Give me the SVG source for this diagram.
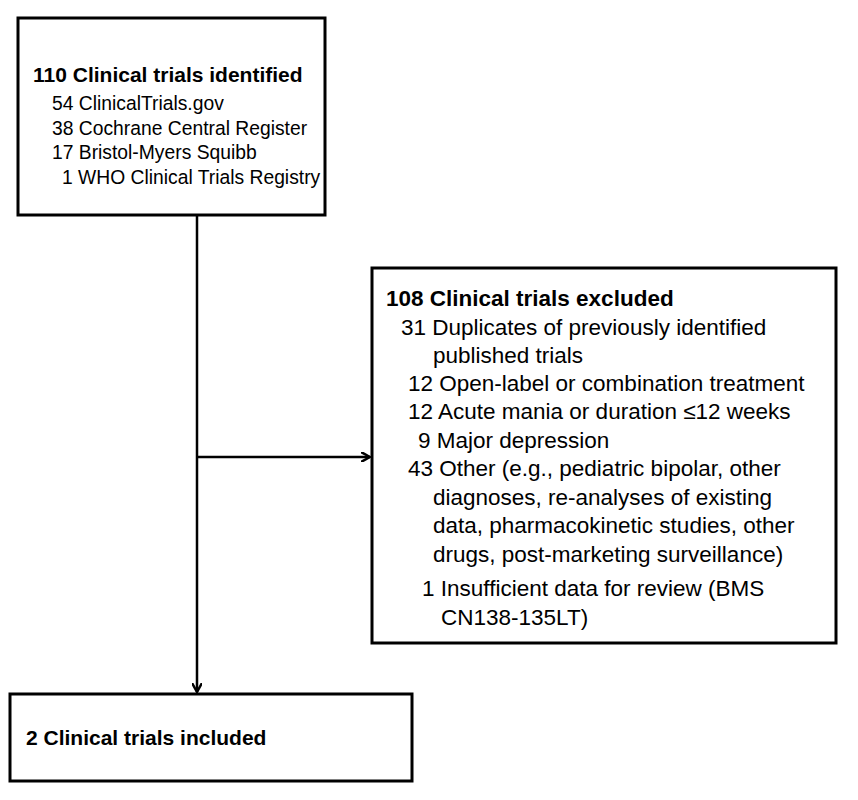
<svg xmlns="http://www.w3.org/2000/svg" width="858" height="800" viewBox="0 0 858 800">
<style>
.box{fill:#fff;stroke:#000;stroke-width:3}
text{font-family:"Liberation Sans",Arial,sans-serif;font-size:19.3px;fill:#000}
.b{font-weight:bold;font-size:21px}
.e{font-size:22.5px}
.eb{font-weight:bold;font-size:22.5px}
.c{stroke:#000;stroke-width:2.5;fill:none}
</style>
<defs><marker id="a" markerWidth="10" markerHeight="10" refX="9" refY="5" orient="auto" markerUnits="userSpaceOnUse"><path d="M0,0 L9,5 L0,10" fill="none" stroke="#000" stroke-width="2.5"/></marker></defs>
<rect width="858" height="800" fill="#fff"/>
<g id="connectors">
<path class="c" d="M197,216 V692" marker-end="url(#a)"/>
<path class="c" d="M197,457 H370" marker-end="url(#a)"/>
</g>
<g id="identified">
<rect class="box" x="18" y="18" width="307" height="197"/>
<text class="b" x="33" y="82">110 Clinical trials identified</text>
<text x="52" y="110">54 ClinicalTrials.gov</text>
<text x="52" y="135">38 Cochrane Central Register</text>
<text x="52" y="159">17 Bristol-Myers Squibb</text>
<text x="62" y="184">1 WHO Clinical Trials Registry</text>
</g>
<g id="excluded">
<rect class="box" x="372" y="268" width="464" height="375"/>
<text class="eb" x="386" y="306">108 Clinical trials excluded</text>
<text class="e" x="401" y="335">31 Duplicates of previously identified</text>
<text class="e" x="433" y="363">published trials</text>
<text class="e" x="408" y="391">12 Open-label or combination treatment</text>
<text class="e" x="408" y="419">12 Acute mania or duration ≤12 weeks</text>
<text class="e" x="418" y="448">9 Major depression</text>
<text class="e" x="408" y="476">43 Other (e.g., pediatric bipolar, other</text>
<text class="e" x="433" y="505">diagnoses, re-analyses of existing</text>
<text class="e" x="433" y="533">data, pharmacokinetic studies,  other</text>
<text class="e" x="433" y="562">drugs, post-marketing surveillance)</text>
<text class="e" x="422" y="596">1 Insufficient data for review (BMS</text>
<text class="e" x="441" y="625">CN138-135LT)</text>
</g>
<g id="included">
<rect class="box" x="10" y="694" width="402" height="87"/>
<text class="b" x="26" y="745">2 Clinical trials included</text>
</g>
</svg>
